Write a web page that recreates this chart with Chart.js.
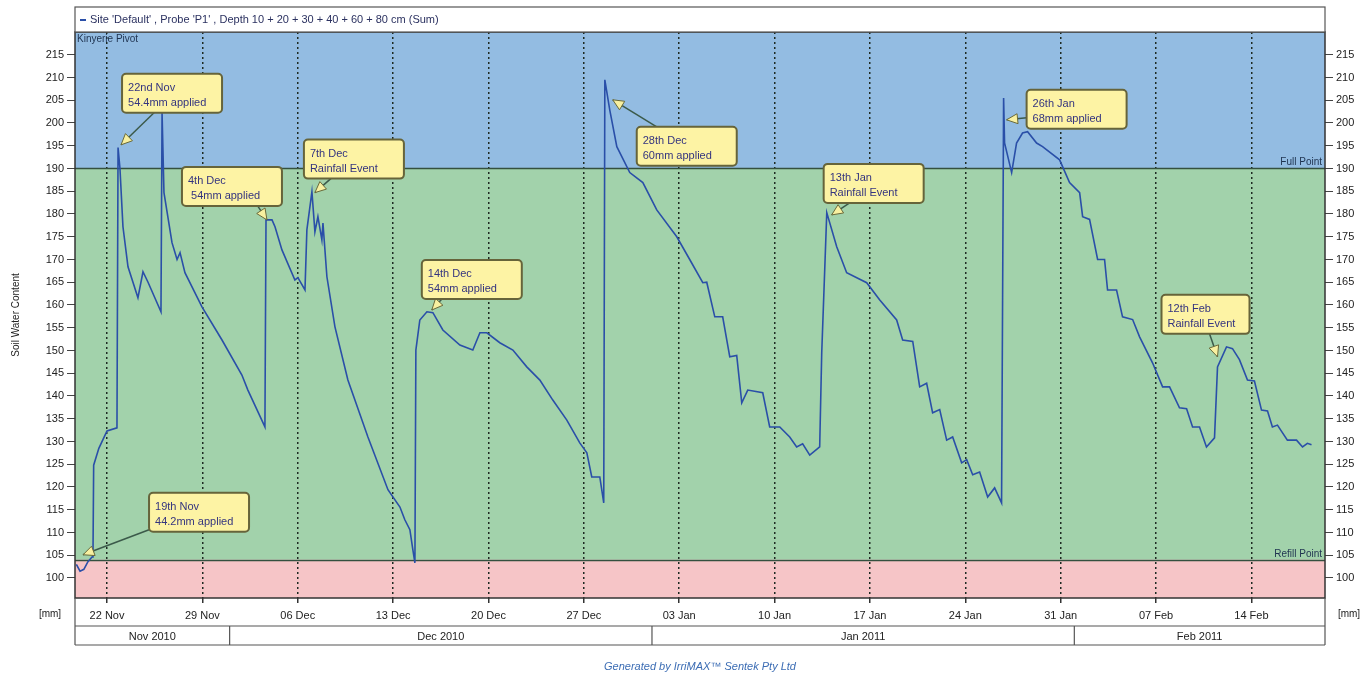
<!DOCTYPE html>
<html lang="en">
<head>
  <meta charset="UTF-8" />
  <title>Soil Water Content - Kinyerie Pivot</title>
  <style>
    html, body { margin: 0; padding: 0; background: #fff; }
    #wrap { width: 1372px; height: 675px; }
  </style>
</head>
<body>
  <div id="wrap"><canvas id="swc" width="1372" height="675"></canvas></div>

  <script src="https://cdn.jsdelivr.net/npm/chart.js"></script>
  <script>
    // x values are days counted from 1 Nov 2010 (= day 0)
    const days = [
      18.75, 19.02, 19.3, 19.6, 19.9, 19.97, 20.02, 20.4, 21.0, 21.73, 21.81, 21.95, 22.17, 22.54,
      23.27, 23.64, 24.01, 24.96, 25.04, 25.18, 25.77, 26.14, 26.36, 26.72, 27.97, 29.44, 30.9,
      31.34, 32.59, 32.67, 33.11, 33.33, 33.84, 34.79, 35.01, 35.53, 35.67, 36.04, 36.26, 36.48,
      36.77, 36.85, 37.14, 37.73, 38.68, 40.15, 41.62, 42.5, 42.86, 43.23, 43.45, 43.6, 43.67,
      43.96, 44.48, 44.92, 45.65, 46.9, 47.85, 48.37, 48.88, 49.83, 50.79, 51.81, 52.77, 53.72,
      54.75, 55.7, 56.22, 56.58, 57.17, 57.46, 57.54, 57.9, 58.42, 59.37, 60.33, 61.35, 62.82,
      63.77, 64.73, 65.02, 65.61, 66.19, 66.71, 67.22, 67.59, 68.03, 69.13, 69.64, 70.38, 71.11,
      71.62, 72.06, 72.58, 73.31, 73.46, 73.83, 74.56, 75.29, 76.76, 77.72, 78.96, 79.4, 80.14,
      80.65, 81.16, 81.6, 82.12, 82.63, 83.07, 83.73, 84.1, 84.54, 85.05, 85.64, 86.15, 86.66,
      86.81, 86.88, 87.4, 87.76, 88.2, 88.57, 89.23, 89.67, 90.92, 91.65, 92.39, 92.61, 93.12,
      93.71, 94.22, 94.44, 95.1, 95.54, 96.28, 96.79, 97.74, 98.48, 98.99, 99.72, 100.24, 100.68,
      101.19, 101.7, 102.29, 102.51, 103.17, 103.61, 104.12, 104.71, 105.22, 105.74, 106.18,
      106.54, 106.91, 107.64, 108.31, 108.75, 109.11, 109.41
    ];
    const swc = [
      103.0, 101.5, 101.9, 103.6, 104.6, 104.9, 124.8, 128.5, 132.3, 133.0, 194.6, 190.0, 177.2, 168.4,
      161.6, 167.3, 165.0, 158.5, 202.2, 184.7, 173.7, 170.0, 171.5, 167.1, 159.6, 152.3, 144.6,
      141.3, 133.2, 178.7, 178.7, 177.2, 172.1, 165.5, 166.0, 163.3, 176.5, 184.9, 176.1, 179.4,
      174.3, 178.0, 166.2, 155.2, 143.5, 131.0, 119.4, 115.6, 112.8, 110.6, 106.2, 103.3, 150.1,
      156.7, 158.5, 158.3, 154.5, 151.2, 150.1, 153.9, 153.9, 151.7, 150.1, 146.4, 143.5, 139.1,
      134.7, 129.7, 127.5, 122.2, 122.2, 116.5, 209.5, 202.9, 194.8, 189.1, 186.9, 180.9, 175.0,
      170.0, 164.9, 165.0, 157.4, 157.4, 148.6, 148.9, 138.5, 141.3, 140.7, 133.2, 133.2, 131.0,
      128.8, 129.5, 127.0, 128.8, 149.5, 180.3, 172.8, 167.1, 164.9, 161.1, 156.7, 152.3, 152.0,
      142.0, 142.8, 136.3, 137.0, 130.3, 131.0, 125.3, 126.0, 122.7, 123.3, 117.8, 119.8, 116.5,
      205.5, 195.6, 189.1, 195.6, 197.8, 198.1, 195.6, 194.8, 191.9, 186.9, 184.7, 179.4, 178.8,
      170.0, 170.0, 163.3, 163.3, 157.4, 156.8, 153.0, 147.3, 142.0, 142.0, 137.4, 137.2, 133.2,
      133.2, 128.8, 130.8, 146.4, 150.8, 150.4, 148.0, 143.5, 143.3, 136.9, 136.7,
      133.2, 133.6, 130.3, 130.3, 128.8, 129.6, 129.3
    ];

    const weekDays = [21, 28, 35, 42, 49, 56, 63, 70, 77, 84, 91, 98, 105];
    const weekLabels = ['22 Nov', '29 Nov', '06 Dec', '13 Dec', '20 Dec', '27 Dec', '03 Jan',
      '10 Jan', '17 Jan', '24 Jan', '31 Jan', '07 Feb', '14 Feb'];
    const yTicks = [100, 105, 110, 115, 120, 125, 130, 135, 140, 145, 150, 155, 160, 165, 170,
      175, 180, 185, 190, 195, 200, 205, 210, 215];
    const monthNames = ['Nov 2010', 'Dec 2010', 'Jan 2011', 'Feb 2011'];
    const monthStarts = [0, 30, 61, 92];
    const fullPoint = 190;
    const refillPoint = 104;

    // callouts: anchored at a data point; box / line start given as pixel offsets from it
    const notes = [
      { day: 19.24, value: 105.1, text: ['19th Nov', '44.2mm applied'], box: [66, -62], from: [66, -25] },
      { day: 22.03, value: 195.2, text: ['22nd Nov', '54.4mm applied'], box: [1, -71], from: [34, -33] },
      { day: 32.74, value: 178.7, text: ['4th Dec', ' 54mm applied'], box: [-85, -53], from: [-10, -15] },
      { day: 36.26, value: 184.7, text: ['7th Dec', 'Rainfall Event'], box: [-11, -53], from: [17, -15] },
      { day: 44.84, value: 158.9, text: ['14th Dec', '54mm applied'], box: [-10, -50], from: [11, -12] },
      { day: 58.12, value: 205.1, text: ['28th Dec', '60mm applied'], box: [24, 27], from: [44, 27] },
      { day: 74.19, value: 179.8, text: ['13th Jan', 'Rainfall Event'], box: [-8, -51], from: [18, -12] },
      { day: 87.03, value: 200.7, text: ['26th Jan', '68mm applied'], box: [20, -30], from: [20, -2] },
      { day: 102.51, value: 148.6, text: ['12th Feb', 'Rainfall Event'], box: [-56, -62], from: [-8, -23], w: 88 }
    ];

    const FONT = 'Arial, "Liberation Sans", sans-serif';

    const backdrop = {
      id: 'backdrop',
      beforeDraw(chart) {
        const { ctx, chartArea: a, scales: { x, y } } = chart;
        ctx.save();
        ctx.fillStyle = '#fff';
        ctx.fillRect(0, 0, chart.width, chart.height);
        const yf = y.getPixelForValue(fullPoint);
        const yr = y.getPixelForValue(refillPoint);
        ctx.fillStyle = '#93bce2';
        ctx.fillRect(a.left, a.top, a.width, yf - a.top);
        ctx.fillStyle = '#a2d2ab';
        ctx.fillRect(a.left, yf, a.width, yr - yf);
        ctx.fillStyle = '#f6c5c7';
        ctx.fillRect(a.left, yr, a.width, a.bottom - yr);
        ctx.restore();
      },
      beforeDatasetsDraw(chart) {
        const { ctx, chartArea: a, scales: { y } } = chart;
        ctx.save();
        ctx.strokeStyle = '#34503f';
        ctx.lineWidth = 1.5;
        [fullPoint, refillPoint].forEach(v => {
          const py = Math.round(y.getPixelForValue(v)) + 0.5;
          ctx.beginPath();
          ctx.moveTo(a.left, py);
          ctx.lineTo(a.right, py);
          ctx.stroke();
        });
        ctx.font = '10px ' + FONT;
        ctx.fillStyle = '#1f3350';
        ctx.textAlign = 'right';
        ctx.textBaseline = 'bottom';
        ctx.fillText('Full Point', a.right - 3, y.getPixelForValue(fullPoint) - 1);
        ctx.fillText('Refill Point', a.right - 3, y.getPixelForValue(refillPoint) - 1);
        ctx.textAlign = 'left';
        ctx.textBaseline = 'top';
        ctx.fillText('Kinyerie Pivot', a.left + 2, a.top + 2);
        ctx.restore();
      },
      afterDatasetsDraw(chart) {
        const { ctx, scales: { x, y } } = chart;
        ctx.save();
        notes.forEach(n => {
          const tx = x.getPixelForValue(n.day), ty = y.getPixelForValue(n.value);
          const sx = tx + n.from[0], sy = ty + n.from[1];
          const bx = tx + n.box[0], by = ty + n.box[1];
          const bw = n.w || 100, bh = 39;
          ctx.strokeStyle = '#3b5a4a';
          ctx.lineWidth = 1.5;
          ctx.beginPath();
          ctx.moveTo(sx, sy);
          ctx.lineTo(tx, ty);
          ctx.stroke();
          // arrow head
          const ang = Math.atan2(ty - sy, tx - sx);
          const len = 11, half = 5;
          const ex = tx - Math.cos(ang) * len, ey = ty - Math.sin(ang) * len;
          ctx.beginPath();
          ctx.moveTo(tx, ty);
          ctx.lineTo(ex + Math.sin(ang) * half, ey - Math.cos(ang) * half);
          ctx.lineTo(ex - Math.sin(ang) * half, ey + Math.cos(ang) * half);
          ctx.closePath();
          ctx.fillStyle = '#f8f0a0';
          ctx.fill();
          ctx.strokeStyle = '#6a6a3a';
          ctx.lineWidth = 1;
          ctx.stroke();
          // box
          ctx.beginPath();
          ctx.roundRect(bx, by, bw, bh, 4);
          ctx.fillStyle = '#fdf3a4';
          ctx.fill();
          ctx.strokeStyle = '#66643a';
          ctx.lineWidth = 2;
          ctx.stroke();
          ctx.fillStyle = '#34347f';
          ctx.font = '11px ' + FONT;
          ctx.textAlign = 'left';
          ctx.textBaseline = 'alphabetic';
          ctx.fillText(n.text[0], bx + 6, by + 17);
          ctx.fillText(n.text[1], bx + 6, by + 32);
        });
        ctx.restore();
      },
      afterDraw(chart) {
        const { ctx, chartArea: a, scales: { x } } = chart;
        ctx.save();
        // plot frame
        ctx.strokeStyle = '#333';
        ctx.lineWidth = 1.5;
        ctx.strokeRect(a.left, a.top, a.width, a.height);

        // series box on top
        ctx.fillStyle = '#fff';
        ctx.fillRect(a.left, 7, a.width, a.top - 7);
        ctx.strokeStyle = '#555';
        ctx.lineWidth = 1.2;
        ctx.strokeRect(a.left, 7, a.width, a.top - 7);
        ctx.strokeStyle = '#2a4fa8';
        ctx.lineWidth = 2;
        ctx.beginPath();
        ctx.moveTo(a.left + 5, 20);
        ctx.lineTo(a.left + 11, 20);
        ctx.stroke();
        ctx.fillStyle = '#2b3160';
        ctx.font = '11px ' + FONT;
        ctx.textBaseline = 'middle';
        ctx.fillText("Site 'Default' , Probe 'P1' , Depth 10 + 20 + 30 + 40 + 60 + 80 cm (Sum)", a.left + 15, 20);

        // axis boxes below the plot
        const rowTop = a.bottom + 28, rowBot = a.bottom + 47;
        ctx.strokeStyle = '#555';
        ctx.lineWidth = 1.2;
        ctx.beginPath();
        ctx.moveTo(a.left, a.bottom); ctx.lineTo(a.left, rowBot);
        ctx.moveTo(a.right, a.bottom); ctx.lineTo(a.right, rowBot);
        ctx.moveTo(a.left, rowTop); ctx.lineTo(a.right, rowTop);
        ctx.moveTo(a.left, rowBot); ctx.lineTo(a.right, rowBot);
        ctx.stroke();
        ctx.fillStyle = '#222';
        ctx.textAlign = 'center';
        ctx.font = '11px ' + FONT;
        monthNames.forEach((m, i) => {
          const x0 = Math.max(a.left, x.getPixelForValue(monthStarts[i]));
          const x1 = i + 1 < monthStarts.length ? x.getPixelForValue(monthStarts[i + 1]) : a.right;
          if (i > 0) {
            ctx.beginPath();
            ctx.moveTo(x0, rowTop);
            ctx.lineTo(x0, rowBot);
            ctx.stroke();
          }
          ctx.fillText(m, (x0 + Math.min(x1, a.right)) / 2, (rowTop + rowBot) / 2 + 1);
        });
        ctx.font = '10px ' + FONT;
        ctx.fillText('[mm]', 50, a.bottom + 16);
        ctx.fillText('[mm]', a.right + 24, a.bottom + 16);

        ctx.font = 'italic 11px ' + FONT;
        ctx.fillStyle = '#3c6db4';
        ctx.fillText('Generated by IrriMAX\u2122 Sentek Pty Ltd', (a.left + a.right) / 2, 667);
        ctx.restore();
      }
    };

    const yAxis = (position, width) => ({
      type: 'linear',
      position: position,
      min: 95.6,
      max: 220,
      afterBuildTicks: s => { s.ticks = yTicks.map(v => ({ value: v })); },
      afterFit: s => { s.width = width; },
      grid: { drawOnChartArea: false, drawTicks: true, tickLength: 8, tickColor: '#444', tickWidth: 1 },
      border: { display: false },
      ticks: { color: '#222', font: { size: 11, family: FONT }, padding: 3 },
      title: position === 'left'
        ? { display: true, text: 'Soil Water Content', color: '#222', font: { size: 10, family: FONT }, padding: { top: 10, bottom: 0 } }
        : { display: false }
    });

    new Chart(document.getElementById('swc'), {
      type: 'line',
      data: {
        datasets: [{
          label: "Site 'Default' , Probe 'P1'",
          data: days.map((d, i) => ({ x: d, y: swc[i] })),
          borderColor: '#2a4fa8',
          borderWidth: 1.6,
          pointRadius: 0,
          tension: 0,
          fill: false,
          yAxisID: 'y'
        }]
      },
      options: {
        responsive: false,
        animation: false,
        devicePixelRatio: 1,
        layout: { padding: { top: 32, left: 0, right: 0, bottom: 0 } },
        plugins: { legend: { display: false }, tooltip: { enabled: false } },
        scales: {
          x: {
            type: 'linear',
            min: 18.65,
            max: 110.4,
            afterBuildTicks: s => { s.ticks = weekDays.map(v => ({ value: v })); },
            afterFit: s => { s.height = 77; },
            grid: { color: '#1e2a22', lineWidth: 1.5, drawTicks: true, tickLength: 5, tickColor: '#333', tickWidth: 1.5 },
            border: { display: false, dash: [2, 3] },
            ticks: {
              color: '#222',
              font: { size: 11, family: FONT },
              padding: 6,
              maxRotation: 0,
              autoSkip: false,
              callback: v => weekLabels[weekDays.indexOf(v)]
            }
          },
          y: yAxis('left', 75),
          y2: yAxis('right', 47)
        }
      },
      plugins: [backdrop]
    });
  </script>
</body>
</html>
